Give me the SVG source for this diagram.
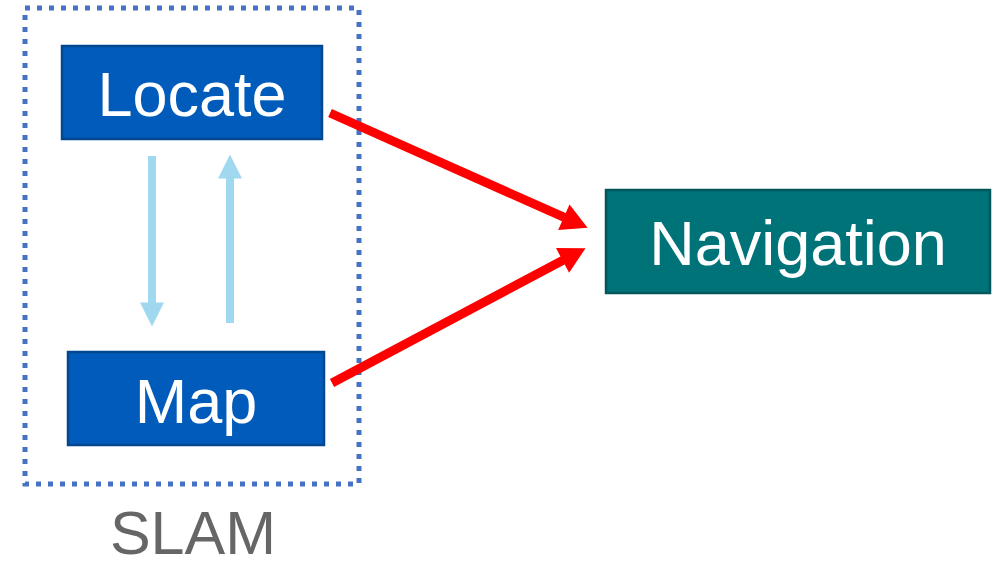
<svg xmlns="http://www.w3.org/2000/svg" width="1000" height="567" viewBox="0 0 1000 567">
<style>
.box{fill:#005BBB;stroke:#00478F;stroke-width:2.5}
.nav{fill:#007379;stroke:#00585C;stroke-width:2.5}
.lbl{font-family:"Liberation Sans",Arial,sans-serif;fill:#fff;text-anchor:middle;font-size:63px}
.red{stroke:#FF0000;stroke-width:9;fill:none;marker-end:url(#redHead)}
.blue{stroke:#A0D8F0;stroke-width:8;fill:none;marker-end:url(#blueHead)}
</style>
<defs>
<marker id="redHead" markerUnits="userSpaceOnUse" markerWidth="26" markerHeight="28" viewBox="0 0 26 28" refX="0.5" refY="14" orient="auto" overflow="visible">
<path d="M0,0 L26,14 L0,28 Z" fill="#FF0000"/>
</marker>
<marker id="blueHead" markerUnits="userSpaceOnUse" markerWidth="24" markerHeight="24" viewBox="0 0 24 24" refX="0.5" refY="12" orient="auto" overflow="visible">
<path d="M0,0 L24,12 L0,24 Z" fill="#A0D8F0"/>
</marker>
</defs>
<g id="slam-group">
<rect x="25" y="8" width="334" height="476" fill="none" stroke="#4472C4" stroke-width="5" stroke-dasharray="5 7"/>
<text x="193" y="554" font-family="Liberation Sans,Arial,sans-serif" font-size="61" fill="#666666" text-anchor="middle">SLAM</text>
</g>
<g id="connectors">
<line class="blue" x1="152" y1="156" x2="152" y2="303"/>
<line class="blue" x1="230" y1="323" x2="230" y2="178"/>
<line class="red" x1="330" y1="113" x2="564.3" y2="217.4"/>
<line class="red" x1="332" y1="383" x2="563" y2="260.2"/>
</g>
<g id="locate">
<rect class="box" x="62" y="46" width="260" height="93"/>
<text class="lbl" x="192" y="116">Locate</text>
</g>
<g id="map">
<rect class="box" x="68" y="352" width="256" height="93"/>
<text class="lbl" x="196" y="423">Map</text>
</g>
<g id="navigation">
<rect class="nav" x="606" y="190" width="384" height="103"/>
<text class="lbl" x="798" y="265" font-size="62">Navigation</text>
</g>
</svg>
